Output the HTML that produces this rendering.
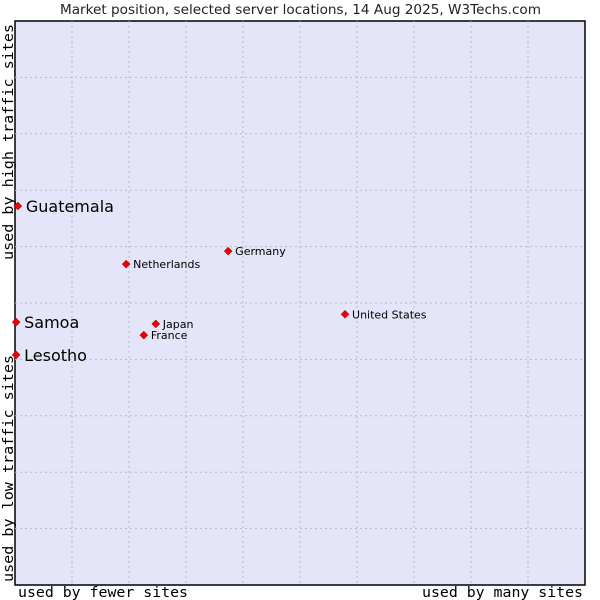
<!DOCTYPE html>
<html><head><meta charset="utf-8"><style>
body{margin:0;background:#fff;width:600px;height:600px;overflow:hidden}
svg{display:block}
</style></head><body>
<svg id="chart" width="600" height="600">
<text x="60" y="14" textLength="481" lengthAdjust="spacingAndGlyphs" font-family="DejaVu Sans, sans-serif" font-size="13" fill="#222">Market position, selected server locations, 14 Aug 2025, W3Techs.com</text>
<rect x="15" y="21" width="570" height="564" fill="#e4e5f8" stroke="#000" stroke-width="1.5"/>
<g id="grid"></g>
<g id="points"></g>
<text x="18" y="597" textLength="170" lengthAdjust="spacingAndGlyphs" font-family="DejaVu Sans Mono, Liberation Mono, monospace" font-size="14" fill="#000">used by fewer sites</text>
<text x="422" y="597" textLength="161" lengthAdjust="spacingAndGlyphs" font-family="DejaVu Sans Mono, Liberation Mono, monospace" font-size="14" fill="#000">used by many sites</text>
<text transform="translate(13,582) rotate(-90)" textLength="227" lengthAdjust="spacingAndGlyphs" font-family="DejaVu Sans Mono, Liberation Mono, monospace" font-size="14" fill="#000">used by low traffic sites</text>
<text transform="translate(13,260) rotate(-90)" textLength="236" lengthAdjust="spacingAndGlyphs" font-family="DejaVu Sans Mono, Liberation Mono, monospace" font-size="14" fill="#000">used by high traffic sites</text>
</svg>
<script>
const names=["Guatemala","Samoa","Lesotho","Netherlands","Germany","Japan","France","United States"];
const xVals=[0.5,0.2,0.2,19.5,37.4,24.7,22.6,57.9];
const yVals=[67.2,46.6,40.8,56.9,59.2,46.3,44.3,48.0];
const big=[true,true,true,false,false,false,false,false];
const X0=15,X1=585,Y0=585,Y1=21;
const sx=v=>X0+v/100*(X1-X0);
const sy=v=>Y0-v/100*(Y0-Y1);
const NS="http://www.w3.org/2000/svg";
const grid=document.getElementById('grid');
for(let i=1;i<10;i++){
  const x=X0+i*57,y=Y0-i*(Y0-Y1)/10;
  let l=document.createElementNS(NS,'line');
  l.setAttribute('x1',x);l.setAttribute('x2',x);l.setAttribute('y1',Y1);l.setAttribute('y2',Y0);
  l.setAttribute('stroke','#bbb');l.setAttribute('stroke-dasharray','2,3');
  
  
  grid.appendChild(l);
  let h=document.createElementNS(NS,'line');
  h.setAttribute('x1',X0);h.setAttribute('x2',X1);h.setAttribute('y1',y);h.setAttribute('y2',y);
  h.setAttribute('stroke','#bbb');h.setAttribute('stroke-dasharray','2,3');
  
  
  grid.appendChild(h);
}
const pts=document.getElementById('points');
names.forEach((n,i)=>{
  const x=sx(xVals[i]),y=sy(yVals[i]);
  const d=document.createElementNS(NS,'polygon');
  d.setAttribute('points',`${x},${y-4} ${x+4},${y} ${x},${y+4} ${x-4},${y}`);
  d.setAttribute('fill','#e00');d.setAttribute('stroke','#900');d.setAttribute('stroke-width','0.5');
  
  
  pts.appendChild(d);
  const t=document.createElementNS(NS,'text');
  t.setAttribute('x',x+(big[i]?8:7));t.setAttribute('y',y+(big[i]?6:4));
  t.setAttribute('font-family','DejaVu Sans, sans-serif');
  t.setAttribute('font-size',big[i]?'16':'11');
  t.textContent=n;
  
  
  pts.appendChild(t);
});
</script>
</body></html>
